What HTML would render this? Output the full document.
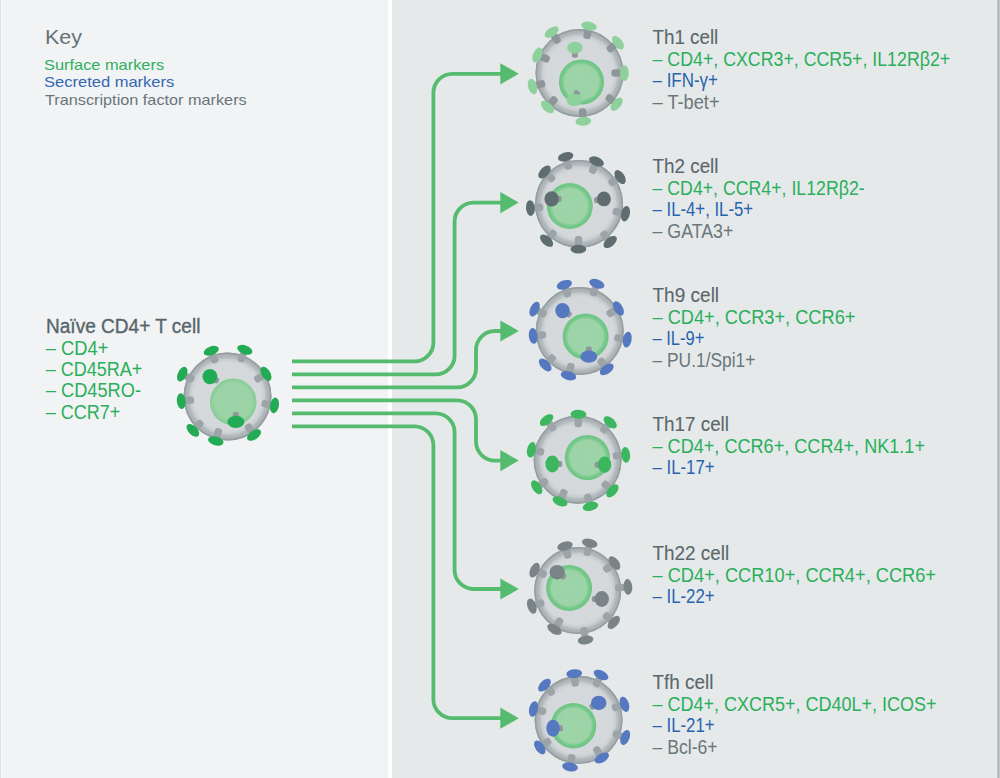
<!DOCTYPE html>
<html><head><meta charset="utf-8"><style>
html,body{margin:0;padding:0;background:#fff;}
svg{display:block;}
text{font-family:"Liberation Sans", sans-serif;}
</style></head><body>
<svg width="1000" height="778" viewBox="0 0 1000 778">
<defs>
<radialGradient id="memb" cx="50%" cy="50%" r="50%">
<stop offset="0" stop-color="#d6dadd"/>
<stop offset="0.77" stop-color="#d4d8db"/>
<stop offset="0.845" stop-color="#c8cdd0"/>
<stop offset="0.885" stop-color="#b5bcbf"/>
<stop offset="0.95" stop-color="#a9b1b3"/>
<stop offset="1" stop-color="#98a0a3"/>
</radialGradient>
<radialGradient id="nuc" cx="50%" cy="50%" r="50%">
<stop offset="0" stop-color="#9dd4a8"/>
<stop offset="0.76" stop-color="#9cd3a7"/>
<stop offset="0.82" stop-color="#86cd97"/>
<stop offset="0.88" stop-color="#74c889"/>
<stop offset="1" stop-color="#6cc583"/>
</radialGradient>
<radialGradient id="nuc0" cx="50%" cy="50%" r="50%">
<stop offset="0" stop-color="#9dd4a8"/>
<stop offset="0.80" stop-color="#9bd3a6"/>
<stop offset="0.90" stop-color="#8ecf9c"/>
<stop offset="1" stop-color="#86cc95"/>
</radialGradient>
</defs>
<rect x="0" y="0" width="1000" height="778" fill="#ffffff"/>
<rect x="0" y="0" width="388" height="778" fill="#f2f3f5"/>
<rect x="0" y="0" width="1" height="778" fill="#dde1e2"/>
<rect x="1" y="0" width="1" height="778" fill="#f8f9fa"/>
<rect x="392" y="0" width="605" height="778" fill="#e6e9ea"/>
<rect x="996" y="0" width="1" height="778" fill="#edf0f1"/>
<rect x="997" y="0" width="1" height="778" fill="#bcc3c5"/>
<rect x="998" y="0" width="1" height="778" fill="#adb5b7"/>
<rect x="999" y="0" width="1" height="778" fill="#c4cacc"/>
<path d="M292 361.4 H414.4 A19 19 0 0 0 433.4 342.4 V92.8 A19 19 0 0 1 452.4 73.8 H502.3" fill="none" stroke="#55bb6e" stroke-width="3.8"/>
<polygon points="500.3,63.199999999999996 518.8,73.8 500.3,84.39999999999999" fill="#55bb6e"/>
<path d="M292 374.4 H435.6 A19 19 0 0 0 454.6 355.4 V221.6 A19 19 0 0 1 473.6 202.6 H502.3" fill="none" stroke="#55bb6e" stroke-width="3.8"/>
<polygon points="500.3,192.0 518.8,202.6 500.3,213.2" fill="#55bb6e"/>
<path d="M292 387.4 H457.0 A19 19 0 0 0 476.0 368.4 V350.0 A19 19 0 0 1 495.0 331.0 H502.3" fill="none" stroke="#55bb6e" stroke-width="3.8"/>
<polygon points="500.3,320.4 518.8,331.0 500.3,341.6" fill="#55bb6e"/>
<path d="M292 400.4 H457.0 A19 19 0 0 1 476.0 419.4 V441.6 A19 19 0 0 0 495.0 460.6 H502.3" fill="none" stroke="#55bb6e" stroke-width="3.8"/>
<polygon points="500.3,450.0 518.8,460.6 500.3,471.20000000000005" fill="#55bb6e"/>
<path d="M292 413.4 H435.6 A19 19 0 0 1 454.6 432.4 V570.0 A19 19 0 0 0 473.6 589.0 H502.3" fill="none" stroke="#55bb6e" stroke-width="3.8"/>
<polygon points="500.3,578.4 518.8,589.0 500.3,599.6" fill="#55bb6e"/>
<path d="M292 426.4 H414.4 A19 19 0 0 1 433.4 445.4 V699.2 A19 19 0 0 0 452.4 718.2 H502.3" fill="none" stroke="#55bb6e" stroke-width="3.8"/>
<polygon points="500.3,707.6 518.8,718.2 500.3,728.8000000000001" fill="#55bb6e"/>
<circle cx="227.5" cy="396.6" r="44" fill="url(#memb)"/><circle cx="227.5" cy="396.6" r="43.3" fill="none" stroke="#959ea1" stroke-width="1.4"/><circle cx="233.2" cy="401.9" r="23.3" fill="url(#nuc0)"/><g transform="translate(227.5 396.6) rotate(-109.5)"><rect x="35.6" y="-3.7" width="10" height="7.4" rx="3" fill="#9ca4a7"/><ellipse cx="48.6" cy="0" rx="4.4" ry="7.9" fill="#22ab55"/></g><g transform="translate(227.5 396.6) rotate(-69.7)"><rect x="36.9" y="-3.7" width="10" height="7.4" rx="3" fill="#9ca4a7"/><ellipse cx="49.9" cy="0" rx="4.4" ry="7.9" fill="#22ab55"/></g><g transform="translate(227.5 396.6) rotate(-30.6)"><rect x="31.7" y="-3.7" width="10" height="7.4" rx="3" fill="#9ca4a7"/><ellipse cx="44.7" cy="0" rx="4.4" ry="7.9" fill="#22ab55"/></g><g transform="translate(227.5 396.6) rotate(10.6)"><rect x="34.8" y="-3.7" width="10" height="7.4" rx="3" fill="#9ca4a7"/><ellipse cx="47.8" cy="0" rx="4.4" ry="7.9" fill="#22ab55"/></g><g transform="translate(227.5 396.6) rotate(55.4)"><rect x="33.7" y="-3.7" width="10" height="7.4" rx="3" fill="#9ca4a7"/><ellipse cx="46.7" cy="0" rx="4.4" ry="7.9" fill="#22ab55"/></g><g transform="translate(227.5 396.6) rotate(104.8)"><rect x="32.9" y="-3.7" width="10" height="7.4" rx="3" fill="#9ca4a7"/><ellipse cx="45.9" cy="0" rx="4.4" ry="7.9" fill="#22ab55"/></g><g transform="translate(227.5 396.6) rotate(135.7)"><rect x="35.4" y="-3.7" width="10" height="7.4" rx="3" fill="#9ca4a7"/><ellipse cx="48.4" cy="0" rx="4.4" ry="7.9" fill="#22ab55"/></g><g transform="translate(227.5 396.6) rotate(174.4)"><rect x="33.5" y="-3.7" width="10" height="7.4" rx="3" fill="#9ca4a7"/><ellipse cx="46.5" cy="0" rx="4.4" ry="7.9" fill="#22ab55"/></g><g transform="translate(227.5 396.6) rotate(-153.7)"><rect x="37.5" y="-3.7" width="10" height="7.4" rx="3" fill="#9ca4a7"/><ellipse cx="50.5" cy="0" rx="4.4" ry="7.9" fill="#22ab55"/></g><g transform="translate(209.9 376.6)"><rect x="3" y="-3" width="7" height="6" rx="2" fill="#8f979a" transform="rotate(30)"/><ellipse cx="0" cy="0" rx="7.45" ry="7.7" fill="#22ab55"/></g><g transform="translate(235.9 421.9)"><rect x="3" y="-3" width="7" height="6" rx="2" fill="#8f979a" transform="rotate(-90)"/><ellipse cx="0" cy="0" rx="8.45" ry="6.2" fill="#22ab55"/></g>
<circle cx="579.5" cy="73" r="44" fill="url(#memb)"/><circle cx="579.5" cy="73" r="43.3" fill="none" stroke="#959ea1" stroke-width="1.4"/><circle cx="581.5" cy="82" r="22.6" fill="url(#nuc)"/><g transform="translate(579.5 73) rotate(-78.5)"><rect x="34.8" y="-3.7" width="10" height="7.4" rx="3" fill="#8e9699"/><ellipse cx="47.8" cy="0" rx="4.4" ry="7.9" fill="#8fd19c"/></g><g transform="translate(579.5 73) rotate(-38.2)"><rect x="36.0" y="-3.7" width="10" height="7.4" rx="3" fill="#8e9699"/><ellipse cx="49.0" cy="0" rx="4.4" ry="7.9" fill="#8fd19c"/></g><g transform="translate(579.5 73) rotate(0.1)"><rect x="31.9" y="-3.7" width="10" height="7.4" rx="3" fill="#8e9699"/><ellipse cx="44.9" cy="0" rx="4.4" ry="7.9" fill="#8fd19c"/></g><g transform="translate(579.5 73) rotate(40.1)"><rect x="35.5" y="-3.7" width="10" height="7.4" rx="3" fill="#8e9699"/><ellipse cx="48.5" cy="0" rx="4.4" ry="7.9" fill="#8fd19c"/></g><g transform="translate(579.5 73) rotate(85.4)"><rect x="35.4" y="-3.7" width="10" height="7.4" rx="3" fill="#8e9699"/><ellipse cx="48.4" cy="0" rx="4.4" ry="7.9" fill="#8fd19c"/></g><g transform="translate(579.5 73) rotate(133.4)"><rect x="33.8" y="-3.7" width="10" height="7.4" rx="3" fill="#8e9699"/><ellipse cx="46.8" cy="0" rx="4.4" ry="7.9" fill="#8fd19c"/></g><g transform="translate(579.5 73) rotate(163.9)"><rect x="35.9" y="-3.7" width="10" height="7.4" rx="3" fill="#8e9699"/><ellipse cx="48.9" cy="0" rx="4.4" ry="7.9" fill="#8fd19c"/></g><g transform="translate(579.5 73) rotate(-156.9)"><rect x="32.8" y="-3.7" width="10" height="7.4" rx="3" fill="#8e9699"/><ellipse cx="45.8" cy="0" rx="4.4" ry="7.9" fill="#8fd19c"/></g><g transform="translate(579.5 73) rotate(-124.3)"><rect x="36.5" y="-3.7" width="10" height="7.4" rx="3" fill="#8e9699"/><ellipse cx="49.5" cy="0" rx="4.4" ry="7.9" fill="#8fd19c"/></g><g transform="translate(574.9 47.7)"><rect x="3" y="-3" width="7" height="6" rx="2" fill="#8f979a" transform="rotate(90)"/><ellipse cx="0" cy="0" rx="7.7" ry="5.95" fill="#8fd19c"/></g><g transform="translate(574.2 100)"><rect x="3" y="-3" width="7" height="6" rx="2" fill="#8f979a" transform="rotate(-70)"/><ellipse cx="0" cy="0" rx="7.7" ry="6.2" fill="#8fd19c"/></g>
<circle cx="579" cy="203.9" r="44" fill="url(#memb)"/><circle cx="579" cy="203.9" r="43.3" fill="none" stroke="#959ea1" stroke-width="1.4"/><circle cx="569.8" cy="206.1" r="23" fill="url(#nuc)"/><g transform="translate(579 203.9) rotate(-105.8)"><rect x="35.9" y="-3.7" width="10" height="7.4" rx="3" fill="#9ca4a7"/><ellipse cx="48.9" cy="0" rx="4.4" ry="7.9" fill="#5f6d70"/></g><g transform="translate(579 203.9) rotate(-67.7)"><rect x="32.9" y="-3.7" width="10" height="7.4" rx="3" fill="#9ca4a7"/><ellipse cx="45.9" cy="0" rx="4.4" ry="7.9" fill="#5f6d70"/></g><g transform="translate(579 203.9) rotate(-33.2)"><rect x="36.1" y="-3.7" width="10" height="7.4" rx="3" fill="#9ca4a7"/><ellipse cx="49.1" cy="0" rx="4.4" ry="7.9" fill="#5f6d70"/></g><g transform="translate(579 203.9) rotate(11.9)"><rect x="34.5" y="-3.7" width="10" height="7.4" rx="3" fill="#9ca4a7"/><ellipse cx="47.5" cy="0" rx="4.4" ry="7.9" fill="#5f6d70"/></g><g transform="translate(579 203.9) rotate(50.7)"><rect x="36.2" y="-3.7" width="10" height="7.4" rx="3" fill="#9ca4a7"/><ellipse cx="49.2" cy="0" rx="4.4" ry="7.9" fill="#5f6d70"/></g><g transform="translate(579 203.9) rotate(90.8)"><rect x="32.2" y="-3.7" width="10" height="7.4" rx="3" fill="#9ca4a7"/><ellipse cx="45.2" cy="0" rx="4.4" ry="7.9" fill="#5f6d70"/></g><g transform="translate(579 203.9) rotate(131.4)"><rect x="36.0" y="-3.7" width="10" height="7.4" rx="3" fill="#9ca4a7"/><ellipse cx="49.0" cy="0" rx="4.4" ry="7.9" fill="#5f6d70"/></g><g transform="translate(579 203.9) rotate(175.1)"><rect x="35.8" y="-3.7" width="10" height="7.4" rx="3" fill="#9ca4a7"/><ellipse cx="48.8" cy="0" rx="4.4" ry="7.9" fill="#5f6d70"/></g><g transform="translate(579 203.9) rotate(-137.2)"><rect x="34.0" y="-3.7" width="10" height="7.4" rx="3" fill="#9ca4a7"/><ellipse cx="47.0" cy="0" rx="4.4" ry="7.9" fill="#5f6d70"/></g><g transform="translate(551.6 198.9)"><rect x="3" y="-3" width="7" height="6" rx="2" fill="#8f979a" transform="rotate(0)"/><ellipse cx="0" cy="0" rx="7.2" ry="7.7" fill="#5f6d70"/></g><g transform="translate(603.9 198.9)"><rect x="3" y="-3" width="7" height="6" rx="2" fill="#8f979a" transform="rotate(170)"/><ellipse cx="0" cy="0" rx="6.95" ry="7.45" fill="#5f6d70"/></g>
<circle cx="579.7" cy="331" r="44" fill="url(#memb)"/><circle cx="579.7" cy="331" r="43.3" fill="none" stroke="#959ea1" stroke-width="1.4"/><circle cx="585.6" cy="336.6" r="23" fill="url(#nuc)"/><g transform="translate(579.7 331) rotate(-108.4)"><rect x="35.7" y="-3.7" width="10" height="7.4" rx="3" fill="#9ca4a7"/><ellipse cx="48.7" cy="0" rx="4.4" ry="7.9" fill="#5578c0"/></g><g transform="translate(579.7 331) rotate(-70.1)"><rect x="37.2" y="-3.7" width="10" height="7.4" rx="3" fill="#9ca4a7"/><ellipse cx="50.2" cy="0" rx="4.4" ry="7.9" fill="#5578c0"/></g><g transform="translate(579.7 331) rotate(-30.2)"><rect x="31.8" y="-3.7" width="10" height="7.4" rx="3" fill="#9ca4a7"/><ellipse cx="44.8" cy="0" rx="4.4" ry="7.9" fill="#5578c0"/></g><g transform="translate(579.7 331) rotate(10.3)"><rect x="35.3" y="-3.7" width="10" height="7.4" rx="3" fill="#9ca4a7"/><ellipse cx="48.3" cy="0" rx="4.4" ry="7.9" fill="#5578c0"/></g><g transform="translate(579.7 331) rotate(54.8)"><rect x="33.9" y="-3.7" width="10" height="7.4" rx="3" fill="#9ca4a7"/><ellipse cx="46.9" cy="0" rx="4.4" ry="7.9" fill="#5578c0"/></g><g transform="translate(579.7 331) rotate(104.1)"><rect x="33.1" y="-3.7" width="10" height="7.4" rx="3" fill="#9ca4a7"/><ellipse cx="46.1" cy="0" rx="4.4" ry="7.9" fill="#5578c0"/></g><g transform="translate(579.7 331) rotate(135.4)"><rect x="35.4" y="-3.7" width="10" height="7.4" rx="3" fill="#9ca4a7"/><ellipse cx="48.4" cy="0" rx="4.4" ry="7.9" fill="#5578c0"/></g><g transform="translate(579.7 331) rotate(173.9)"><rect x="33.8" y="-3.7" width="10" height="7.4" rx="3" fill="#9ca4a7"/><ellipse cx="46.8" cy="0" rx="4.4" ry="7.9" fill="#5578c0"/></g><g transform="translate(579.7 331) rotate(-154.2)"><rect x="37.1" y="-3.7" width="10" height="7.4" rx="3" fill="#9ca4a7"/><ellipse cx="50.1" cy="0" rx="4.4" ry="7.9" fill="#5578c0"/></g><g transform="translate(562.5 310.6)"><rect x="3" y="-3" width="7" height="6" rx="2" fill="#8f979a" transform="rotate(30)"/><ellipse cx="0" cy="0" rx="7.2" ry="7.7" fill="#5578c0"/></g><g transform="translate(588.8 356.6)"><rect x="3" y="-3" width="7" height="6" rx="2" fill="#8f979a" transform="rotate(-90)"/><ellipse cx="0" cy="0" rx="8.45" ry="6.2" fill="#5578c0"/></g>
<circle cx="577.6" cy="459.7" r="44" fill="url(#memb)"/><circle cx="577.6" cy="459.7" r="43.3" fill="none" stroke="#959ea1" stroke-width="1.4"/><circle cx="587.4" cy="457.6" r="22.6" fill="url(#nuc)"/><g transform="translate(577.6 459.7) rotate(-89.0)"><rect x="32.5" y="-3.7" width="10" height="7.4" rx="3" fill="#9ca4a7"/><ellipse cx="45.5" cy="0" rx="4.4" ry="7.9" fill="#3cb760"/></g><g transform="translate(577.6 459.7) rotate(-48.9)"><rect x="36.6" y="-3.7" width="10" height="7.4" rx="3" fill="#9ca4a7"/><ellipse cx="49.6" cy="0" rx="4.4" ry="7.9" fill="#3cb760"/></g><g transform="translate(577.6 459.7) rotate(-5.8)"><rect x="35.4" y="-3.7" width="10" height="7.4" rx="3" fill="#9ca4a7"/><ellipse cx="48.4" cy="0" rx="4.4" ry="7.9" fill="#3cb760"/></g><g transform="translate(577.6 459.7) rotate(41.8)"><rect x="33.7" y="-3.7" width="10" height="7.4" rx="3" fill="#9ca4a7"/><ellipse cx="46.7" cy="0" rx="4.4" ry="7.9" fill="#3cb760"/></g><g transform="translate(577.6 459.7) rotate(74.6)"><rect x="35.4" y="-3.7" width="10" height="7.4" rx="3" fill="#9ca4a7"/><ellipse cx="48.4" cy="0" rx="4.4" ry="7.9" fill="#3cb760"/></g><g transform="translate(577.6 459.7) rotate(112.9)"><rect x="32.3" y="-3.7" width="10" height="7.4" rx="3" fill="#9ca4a7"/><ellipse cx="45.3" cy="0" rx="4.4" ry="7.9" fill="#3cb760"/></g><g transform="translate(577.6 459.7) rotate(146.0)"><rect x="36.3" y="-3.7" width="10" height="7.4" rx="3" fill="#9ca4a7"/><ellipse cx="49.3" cy="0" rx="4.4" ry="7.9" fill="#3cb760"/></g><g transform="translate(577.6 459.7) rotate(-167.9)"><rect x="34.2" y="-3.7" width="10" height="7.4" rx="3" fill="#9ca4a7"/><ellipse cx="47.2" cy="0" rx="4.4" ry="7.9" fill="#3cb760"/></g><g transform="translate(577.6 459.7) rotate(-128.1)"><rect x="37.3" y="-3.7" width="10" height="7.4" rx="3" fill="#9ca4a7"/><ellipse cx="50.3" cy="0" rx="4.4" ry="7.9" fill="#3cb760"/></g><g transform="translate(552.3 464)"><rect x="3" y="-3" width="7" height="6" rx="2" fill="#8f979a" transform="rotate(0)"/><ellipse cx="0" cy="0" rx="6.9" ry="8.45" fill="#3cb760"/></g><g transform="translate(604.6 464.7)"><rect x="3" y="-3" width="7" height="6" rx="2" fill="#8f979a" transform="rotate(180)"/><ellipse cx="0" cy="0" rx="6.7" ry="8.2" fill="#3cb760"/></g>
<circle cx="577.7" cy="590.5" r="43.5" fill="url(#memb)"/><circle cx="577.7" cy="590.5" r="42.8" fill="none" stroke="#959ea1" stroke-width="1.4"/><circle cx="569.1" cy="588" r="23" fill="url(#nuc)"/><g transform="translate(577.7 590.5) rotate(-105.9)"><rect x="33.3" y="-3.7" width="10" height="7.4" rx="3" fill="#9ca4a7"/><ellipse cx="46.3" cy="0" rx="4.4" ry="7.9" fill="#7a8487"/></g><g transform="translate(577.7 590.5) rotate(-75.8)"><rect x="35.8" y="-3.7" width="10" height="7.4" rx="3" fill="#9ca4a7"/><ellipse cx="48.8" cy="0" rx="4.4" ry="7.9" fill="#7a8487"/></g><g transform="translate(577.7 590.5) rotate(-36.8)"><rect x="32.9" y="-3.7" width="10" height="7.4" rx="3" fill="#9ca4a7"/><ellipse cx="45.9" cy="0" rx="4.4" ry="7.9" fill="#7a8487"/></g><g transform="translate(577.7 590.5) rotate(-4.0)"><rect x="37.3" y="-3.7" width="10" height="7.4" rx="3" fill="#9ca4a7"/><ellipse cx="50.3" cy="0" rx="4.4" ry="7.9" fill="#7a8487"/></g><g transform="translate(577.7 590.5) rotate(41.5)"><rect x="35.2" y="-3.7" width="10" height="7.4" rx="3" fill="#9ca4a7"/><ellipse cx="48.2" cy="0" rx="4.4" ry="7.9" fill="#7a8487"/></g><g transform="translate(577.7 590.5) rotate(81.0)"><rect x="37.1" y="-3.7" width="10" height="7.4" rx="3" fill="#9ca4a7"/><ellipse cx="50.1" cy="0" rx="4.4" ry="7.9" fill="#7a8487"/></g><g transform="translate(577.7 590.5) rotate(120.9)"><rect x="32.3" y="-3.7" width="10" height="7.4" rx="3" fill="#9ca4a7"/><ellipse cx="45.3" cy="0" rx="4.4" ry="7.9" fill="#7a8487"/></g><g transform="translate(577.7 590.5) rotate(161.2)"><rect x="35.5" y="-3.7" width="10" height="7.4" rx="3" fill="#9ca4a7"/><ellipse cx="48.5" cy="0" rx="4.4" ry="7.9" fill="#7a8487"/></g><g transform="translate(577.7 590.5) rotate(-154.6)"><rect x="34.7" y="-3.7" width="10" height="7.4" rx="3" fill="#9ca4a7"/><ellipse cx="47.7" cy="0" rx="4.4" ry="7.9" fill="#7a8487"/></g><g transform="translate(557.2 572.2)"><rect x="3" y="-3" width="7" height="6" rx="2" fill="#8f979a" transform="rotate(35)"/><ellipse cx="0" cy="0" rx="7.7" ry="7.2" fill="#7a8487"/></g><g transform="translate(601.8 599)"><rect x="3" y="-3" width="7" height="6" rx="2" fill="#8f979a" transform="rotate(180)"/><ellipse cx="0" cy="0" rx="7.2" ry="7.95" fill="#7a8487"/></g>
<circle cx="578.6" cy="719.8" r="44" fill="url(#memb)"/><circle cx="578.6" cy="719.8" r="43.3" fill="none" stroke="#959ea1" stroke-width="1.4"/><circle cx="573.5" cy="725.7" r="22.8" fill="url(#nuc)"/><g transform="translate(578.6 719.8) rotate(-95.4)"><rect x="33.4" y="-3.7" width="10" height="7.4" rx="3" fill="#9ca4a7"/><ellipse cx="46.4" cy="0" rx="4.4" ry="7.9" fill="#5578c0"/></g><g transform="translate(578.6 719.8) rotate(-63.4)"><rect x="37.1" y="-3.7" width="10" height="7.4" rx="3" fill="#9ca4a7"/><ellipse cx="50.1" cy="0" rx="4.4" ry="7.9" fill="#5578c0"/></g><g transform="translate(578.6 719.8) rotate(-18.7)"><rect x="35.4" y="-3.7" width="10" height="7.4" rx="3" fill="#9ca4a7"/><ellipse cx="48.4" cy="0" rx="4.4" ry="7.9" fill="#5578c0"/></g><g transform="translate(578.6 719.8) rotate(20.8)"><rect x="36.8" y="-3.7" width="10" height="7.4" rx="3" fill="#9ca4a7"/><ellipse cx="49.8" cy="0" rx="4.4" ry="7.9" fill="#5578c0"/></g><g transform="translate(578.6 719.8) rotate(58.7)"><rect x="31.7" y="-3.7" width="10" height="7.4" rx="3" fill="#9ca4a7"/><ellipse cx="44.7" cy="0" rx="4.4" ry="7.9" fill="#5578c0"/></g><g transform="translate(578.6 719.8) rotate(100.3)"><rect x="34.9" y="-3.7" width="10" height="7.4" rx="3" fill="#9ca4a7"/><ellipse cx="47.9" cy="0" rx="4.4" ry="7.9" fill="#5578c0"/></g><g transform="translate(578.6 719.8) rotate(144.6)"><rect x="34.6" y="-3.7" width="10" height="7.4" rx="3" fill="#9ca4a7"/><ellipse cx="47.6" cy="0" rx="4.4" ry="7.9" fill="#5578c0"/></g><g transform="translate(578.6 719.8) rotate(-166.5)"><rect x="33.3" y="-3.7" width="10" height="7.4" rx="3" fill="#9ca4a7"/><ellipse cx="46.3" cy="0" rx="4.4" ry="7.9" fill="#5578c0"/></g><g transform="translate(578.6 719.8) rotate(-134.6)"><rect x="35.6" y="-3.7" width="10" height="7.4" rx="3" fill="#9ca4a7"/><ellipse cx="48.6" cy="0" rx="4.4" ry="7.9" fill="#5578c0"/></g><g transform="translate(598.7 702.9)"><rect x="3" y="-3" width="7" height="6" rx="2" fill="#8f979a" transform="rotate(150)"/><ellipse cx="0" cy="0" rx="7.7" ry="7.2" fill="#5578c0"/></g><g transform="translate(553 728.3)"><rect x="3" y="-3" width="7" height="6" rx="2" fill="#8f979a" transform="rotate(0)"/><ellipse cx="0" cy="0" rx="6.7" ry="8.45" fill="#5578c0"/></g>
<text id="t0" x="45.00" y="43.75" fill="#657275" stroke="#657275" stroke-width="0" font-size="21" textLength="37.00" lengthAdjust="spacingAndGlyphs">Key</text>
<text id="t1" x="44.00" y="69.8" fill="#2fb05e" stroke="#2fb05e" stroke-width="0" font-size="14.5" textLength="120.10" lengthAdjust="spacingAndGlyphs">Surface markers</text>
<text id="t2" x="44.00" y="87.1" fill="#3468b3" stroke="#3468b3" stroke-width="0" font-size="14.5" textLength="130.30" lengthAdjust="spacingAndGlyphs">Secreted markers</text>
<text id="t3" x="45.00" y="105" fill="#68767a" stroke="#68767a" stroke-width="0" font-size="14.5" textLength="201.70" lengthAdjust="spacingAndGlyphs">Transcription factor markers</text>
<text id="t4" x="46.00" y="332.6" fill="#56666a" stroke="#56666a" stroke-width="0.35" font-size="19.6" textLength="154.40" lengthAdjust="spacingAndGlyphs">Naïve CD4+ T cell</text>
<text id="t5" x="45.80" y="354.7" fill="#2aaf5a" stroke="#2aaf5a" stroke-width="0.0" font-size="19.6" textLength="62.60" lengthAdjust="spacingAndGlyphs">– CD4+</text>
<text id="t6" x="45.80" y="376.0" fill="#2aaf5a" stroke="#2aaf5a" stroke-width="0.0" font-size="19.6" textLength="96.60" lengthAdjust="spacingAndGlyphs">– CD45RA+</text>
<text id="t7" x="45.80" y="397.4" fill="#2aaf5a" stroke="#2aaf5a" stroke-width="0.0" font-size="19.6" textLength="95.20" lengthAdjust="spacingAndGlyphs">– CD45RO-</text>
<text id="t8" x="45.80" y="418.8" fill="#2aaf5a" stroke="#2aaf5a" stroke-width="0.0" font-size="19.6" textLength="74.60" lengthAdjust="spacingAndGlyphs">– CCR7+</text>
<text id="t9" x="652.50" y="43.6" fill="#5a686c" stroke="#5a686c" stroke-width="0.12" font-size="19.6" textLength="65.80" lengthAdjust="spacingAndGlyphs">Th1 cell</text>
<text id="t10" x="652.50" y="65.6" fill="#2aaf5a" stroke="#2aaf5a" stroke-width="0.0" font-size="19.6" textLength="297.70" lengthAdjust="spacingAndGlyphs">– CD4+, CXCR3+, CCR5+, IL12Rβ2+</text>
<text id="t11" x="652.50" y="87.1" fill="#2863ae" stroke="#2863ae" stroke-width="0.0" font-size="19.6" textLength="65.50" lengthAdjust="spacingAndGlyphs">– IFN-γ+</text>
<text id="t12" x="652.50" y="108.5" fill="#6a777b" stroke="#6a777b" stroke-width="0.0" font-size="19.6" textLength="67.10" lengthAdjust="spacingAndGlyphs">– T-bet+</text>
<text id="t13" x="652.50" y="172.6" fill="#5a686c" stroke="#5a686c" stroke-width="0.12" font-size="19.6" textLength="66.00" lengthAdjust="spacingAndGlyphs">Th2 cell</text>
<text id="t14" x="652.50" y="194.6" fill="#2aaf5a" stroke="#2aaf5a" stroke-width="0.0" font-size="19.6" textLength="212.20" lengthAdjust="spacingAndGlyphs">– CD4+, CCR4+, IL12Rβ2-</text>
<text id="t15" x="652.50" y="216.1" fill="#2863ae" stroke="#2863ae" stroke-width="0.0" font-size="19.6" textLength="100.60" lengthAdjust="spacingAndGlyphs">– IL-4+, IL-5+</text>
<text id="t16" x="652.50" y="237.5" fill="#6a777b" stroke="#6a777b" stroke-width="0.0" font-size="19.6" textLength="80.80" lengthAdjust="spacingAndGlyphs">– GATA3+</text>
<text id="t17" x="652.50" y="301.6" fill="#5a686c" stroke="#5a686c" stroke-width="0.12" font-size="19.6" textLength="66.60" lengthAdjust="spacingAndGlyphs">Th9 cell</text>
<text id="t18" x="652.50" y="323.6" fill="#2aaf5a" stroke="#2aaf5a" stroke-width="0.0" font-size="19.6" textLength="202.90" lengthAdjust="spacingAndGlyphs">– CD4+, CCR3+, CCR6+</text>
<text id="t19" x="652.50" y="345.1" fill="#2863ae" stroke="#2863ae" stroke-width="0.0" font-size="19.6" textLength="51.80" lengthAdjust="spacingAndGlyphs">– IL-9+</text>
<text id="t20" x="652.50" y="366.5" fill="#6a777b" stroke="#6a777b" stroke-width="0.0" font-size="19.6" textLength="102.90" lengthAdjust="spacingAndGlyphs">– PU.1/Spi1+</text>
<text id="t21" x="652.50" y="430.6" fill="#5a686c" stroke="#5a686c" stroke-width="0.12" font-size="19.6" textLength="76.50" lengthAdjust="spacingAndGlyphs">Th17 cell</text>
<text id="t22" x="652.50" y="452.6" fill="#2aaf5a" stroke="#2aaf5a" stroke-width="0.0" font-size="19.6" textLength="272.50" lengthAdjust="spacingAndGlyphs">– CD4+, CCR6+, CCR4+, NK1.1+</text>
<text id="t23" x="652.50" y="474.1" fill="#2863ae" stroke="#2863ae" stroke-width="0.0" font-size="19.6" textLength="62.00" lengthAdjust="spacingAndGlyphs">– IL-17+</text>
<text id="t24" x="652.50" y="559.6" fill="#5a686c" stroke="#5a686c" stroke-width="0.12" font-size="19.6" textLength="76.60" lengthAdjust="spacingAndGlyphs">Th22 cell</text>
<text id="t25" x="652.50" y="581.6" fill="#2aaf5a" stroke="#2aaf5a" stroke-width="0.0" font-size="19.6" textLength="283.50" lengthAdjust="spacingAndGlyphs">– CD4+, CCR10+, CCR4+, CCR6+</text>
<text id="t26" x="652.50" y="603.1" fill="#2863ae" stroke="#2863ae" stroke-width="0.0" font-size="19.6" textLength="62.10" lengthAdjust="spacingAndGlyphs">– IL-22+</text>
<text id="t27" x="652.50" y="688.6" fill="#5a686c" stroke="#5a686c" stroke-width="0.12" font-size="19.6" textLength="61.00" lengthAdjust="spacingAndGlyphs">Tfh cell</text>
<text id="t28" x="652.50" y="710.6" fill="#2aaf5a" stroke="#2aaf5a" stroke-width="0.0" font-size="19.6" textLength="284.10" lengthAdjust="spacingAndGlyphs">– CD4+, CXCR5+, CD40L+, ICOS+</text>
<text id="t29" x="652.50" y="732.1" fill="#2863ae" stroke="#2863ae" stroke-width="0.0" font-size="19.6" textLength="62.10" lengthAdjust="spacingAndGlyphs">– IL-21+</text>
<text id="t30" x="652.50" y="753.5" fill="#6a777b" stroke="#6a777b" stroke-width="0.0" font-size="19.6" textLength="65.10" lengthAdjust="spacingAndGlyphs">– Bcl-6+</text>
</svg>
</body></html>
